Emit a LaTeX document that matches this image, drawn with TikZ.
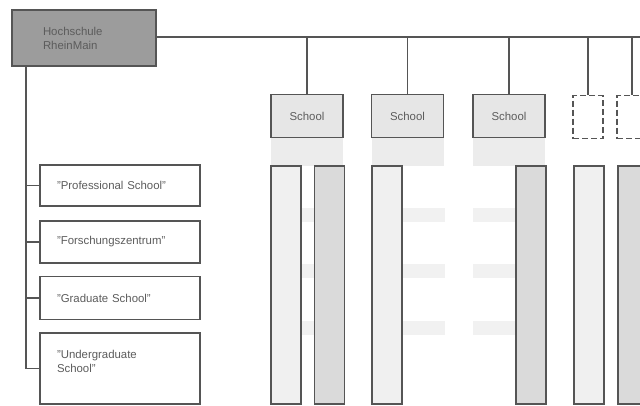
\documentclass[tikz,border=0pt]{standalone}
\usepackage{fontspec}
\setsansfont{Liberation Sans}
\usetikzlibrary{positioning}
\definecolor{linegray}{HTML}{555555}
\definecolor{txtgray}{HTML}{5C5C5C}
\definecolor{headgray}{HTML}{9C9C9C}
\definecolor{schoolgray}{HTML}{E6E6E6}
\definecolor{bandgray}{HTML}{ECECEC}
\definecolor{stripegray}{HTML}{F1F1F1}
\definecolor{lightbar}{HTML}{F0F0F0}
\definecolor{darkbar}{HTML}{DADADA}
\begin{document}
\begin{tikzpicture}[x=1pt,y=-1pt,font=\sffamily\fontsize{11.4}{14}\selectfont,
 unit/.style={draw=linegray,line width=1.4pt,text=txtgray,inner sep=0pt},
 head/.style={unit,fill=headgray,minimum width=144pt,minimum height=56pt,text width=82pt,inner xsep=31pt,align=left},
 school/.style={unit,fill=schoolgray,minimum width=72pt,minimum height=43pt},
 ghost/.style={unit,fill=white,dash pattern=on 6pt off 3pt,minimum width=30pt,minimum height=43pt},
 band/.style={fill=bandgray,minimum width=72pt,minimum height=28pt,inner sep=0pt},
 track/.style={unit,minimum width=30pt,minimum height=238pt},
 label/.style={unit,fill=white,minimum width=160pt,text width=126pt,inner xsep=17pt,align=left},
 link/.style={draw=linegray,line width=1.4pt}]
\useasboundingbox (0,0) rectangle (640,405);
\clip (0,0) rectangle (640,405);
\node[head] (hsrm) at (84,38) {Hochschule\\RheinMain};
% schools
\node[school] (school1) at (307,116) {School};
\node[school] (school2) at (407.5,116) {School};
\node[school] (school3) at (509,116) {School};
\node[ghost] (ghost1) at (588,117) {};
\node[ghost] (ghost2) at (632,117) {};
\node[band] (band1) at (307,152) {};
\node[band] (band2) at (407.5,152) {};
\node[band] (band3) at (509,152) {};
% faint stripes between the tracks
\foreach \y in {215,270.5,327.5} {
 \fill[stripegray] (301,\y-7) rectangle (315,\y+7);
 \fill[stripegray] (402,\y-7) rectangle (445,\y+7);
 \fill[stripegray] (473,\y-7) rectangle (516,\y+7);
}
\node[track,fill=lightbar] (track1) at (286,285) {};
\node[track,fill=darkbar] (track2) at (329.5,285) {};
\node[track,fill=lightbar] (track3) at (387,285) {};
\node[track,fill=darkbar] (track4) at (531,285) {};
\node[track,fill=lightbar] (track5) at (589,285) {};
\node[track,fill=darkbar] (track6) at (633,285) {};
% special units
\node[label,minimum height=41pt] (unit1) at (120,185.5) {"Professional School"};
\node[label,minimum height=42pt] (unit2) at (120,242) {"Forschungszentrum"};
\node[label,minimum height=43pt] (unit3) at (120,298) {"Graduate School"};
\node[label,minimum height=71pt] (unit4) at (120,368.5) {"Undergraduate\\School"\\\mbox{}};
\coordinate (spine) at (26,66.5);
\coordinate (rimright) at (646,37);
\draw[link] (spine) |- (unit4.west);
\draw[link] (unit1.west) -- (unit1.west -| spine);
\draw[link] (unit2.west) -- (unit2.west -| spine);
\draw[link] (unit3.west) -- (unit3.west -| spine);
\draw[link] (hsrm.east |- rimright) -- (rimright);
\draw[link] (school1.north) -- (school1.north |- rimright);
\draw[link] (school2.north) -- (school2.north |- rimright);
\draw[link] (school3.north) -- (school3.north |- rimright);
\draw[link] (ghost1.north) -- (ghost1.north |- rimright);
\draw[link] (ghost2.north) -- (ghost2.north |- rimright);
\end{tikzpicture}
\end{document}
